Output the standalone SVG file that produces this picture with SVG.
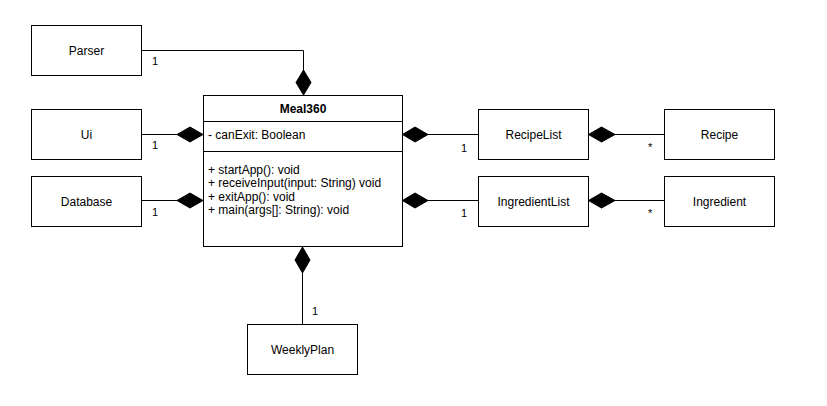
<svg xmlns="http://www.w3.org/2000/svg" width="827" height="406" viewBox="0 0 827 406">
<defs>
<style>
.box{fill:#fff;stroke:#000;stroke-width:1}
.t{font-family:"Liberation Sans",Arial,sans-serif;font-size:12px;fill:#000}
.c{text-anchor:middle}
.b{font-weight:bold}
.lbl{font-family:"Liberation Sans",Arial,sans-serif;font-size:11px;fill:#000}
.ln{fill:none;stroke:#000;stroke-width:1}
.dm{fill:#000;stroke:#000;stroke-width:1}
</style>
</defs>
<rect width="827" height="406" fill="#fff"/>
<g id="connectors">
<path class="ln" d="M141.5 50.5 H303.5 V70"/>
<path class="dm" d="M303.5 70 L311 82.5 L303.5 95 L296 82.5 Z"/>
<path class="ln" d="M141.5 134.5 H177"/>
<path class="dm" d="M177 134.5 L190 127 L203 134.5 L190 142 Z"/>
<path class="ln" d="M141.5 200.5 H177"/>
<path class="dm" d="M177 200.5 L190 193 L203 200.5 L190 208 Z"/>
<path class="ln" d="M478.5 134.5 H428"/>
<path class="dm" d="M402.5 134.5 L415 127 L428 134.5 L415 142 Z"/>
<path class="ln" d="M478.5 200.5 H428"/>
<path class="dm" d="M402.5 200.5 L415 193 L428 200.5 L415 208 Z"/>
<path class="ln" d="M664.5 134.5 H615"/>
<path class="dm" d="M588.5 134.5 L601.5 127 L615 134.5 L601.5 142 Z"/>
<path class="ln" d="M664.5 200.5 H615"/>
<path class="dm" d="M588.5 200.5 L601.5 193 L615 200.5 L601.5 208 Z"/>
<path class="ln" d="M302.5 324.5 V273"/>
<path class="dm" d="M302.5 247 L310 260 L302.5 273 L295 260 Z"/>
<text class="lbl" x="152" y="65">1</text>
<text class="lbl" x="152" y="149">1</text>
<text class="lbl" x="152" y="216">1</text>
<text class="lbl" x="461" y="152">1</text>
<text class="lbl" x="461" y="217">1</text>
<text class="lbl" x="648" y="151">*</text>
<text class="lbl" x="648" y="217">*</text>
<text class="lbl" x="312" y="315">1</text>
</g>
<g id="Parser">
<rect class="box" x="31.5" y="25.5" width="110" height="50"/>
<text class="t c" x="86.5" y="54.5">Parser</text>
</g>
<g id="Ui">
<rect class="box" x="31.5" y="109.5" width="110" height="50"/>
<text class="t c" x="86.5" y="138.5">Ui</text>
</g>
<g id="Database">
<rect class="box" x="31.5" y="176.5" width="110" height="50"/>
<text class="t c" x="86.5" y="205.5">Database</text>
</g>
<g id="Meal360">
<rect class="box" x="203.5" y="95.5" width="199" height="151"/>
<line class="ln" x1="203.5" y1="121.5" x2="402.5" y2="121.5"/>
<line class="ln" x1="203.5" y1="151.5" x2="402.5" y2="151.5"/>
<text class="t c b" x="303" y="112.5">Meal360</text>
<text class="t" x="208" y="138.5">- canExit: Boolean</text>
<text class="t" x="208" y="173.5">+ startApp(): void</text>
<text class="t" x="208" y="187">+ receiveInput(input: String) void</text>
<text class="t" x="208" y="200.5">+ exitApp(): void</text>
<text class="t" x="208" y="214">+ main(args[]: String): void</text>
</g>
<g id="RecipeList">
<rect class="box" x="478.5" y="109.5" width="110" height="50"/>
<text class="t c" x="533.5" y="138.5">RecipeList</text>
</g>
<g id="IngredientList">
<rect class="box" x="478.5" y="176.5" width="110" height="50"/>
<text class="t c" x="533.5" y="205.5">IngredientList</text>
</g>
<g id="Recipe">
<rect class="box" x="664.5" y="109.5" width="110" height="50"/>
<text class="t c" x="719.5" y="138.5">Recipe</text>
</g>
<g id="Ingredient">
<rect class="box" x="664.5" y="176.5" width="110" height="50"/>
<text class="t c" x="719.5" y="205.5">Ingredient</text>
</g>
<g id="WeeklyPlan">
<rect class="box" x="247.5" y="324.5" width="110" height="50"/>
<text class="t c" x="302.5" y="353.5">WeeklyPlan</text>
</g>
</svg>
